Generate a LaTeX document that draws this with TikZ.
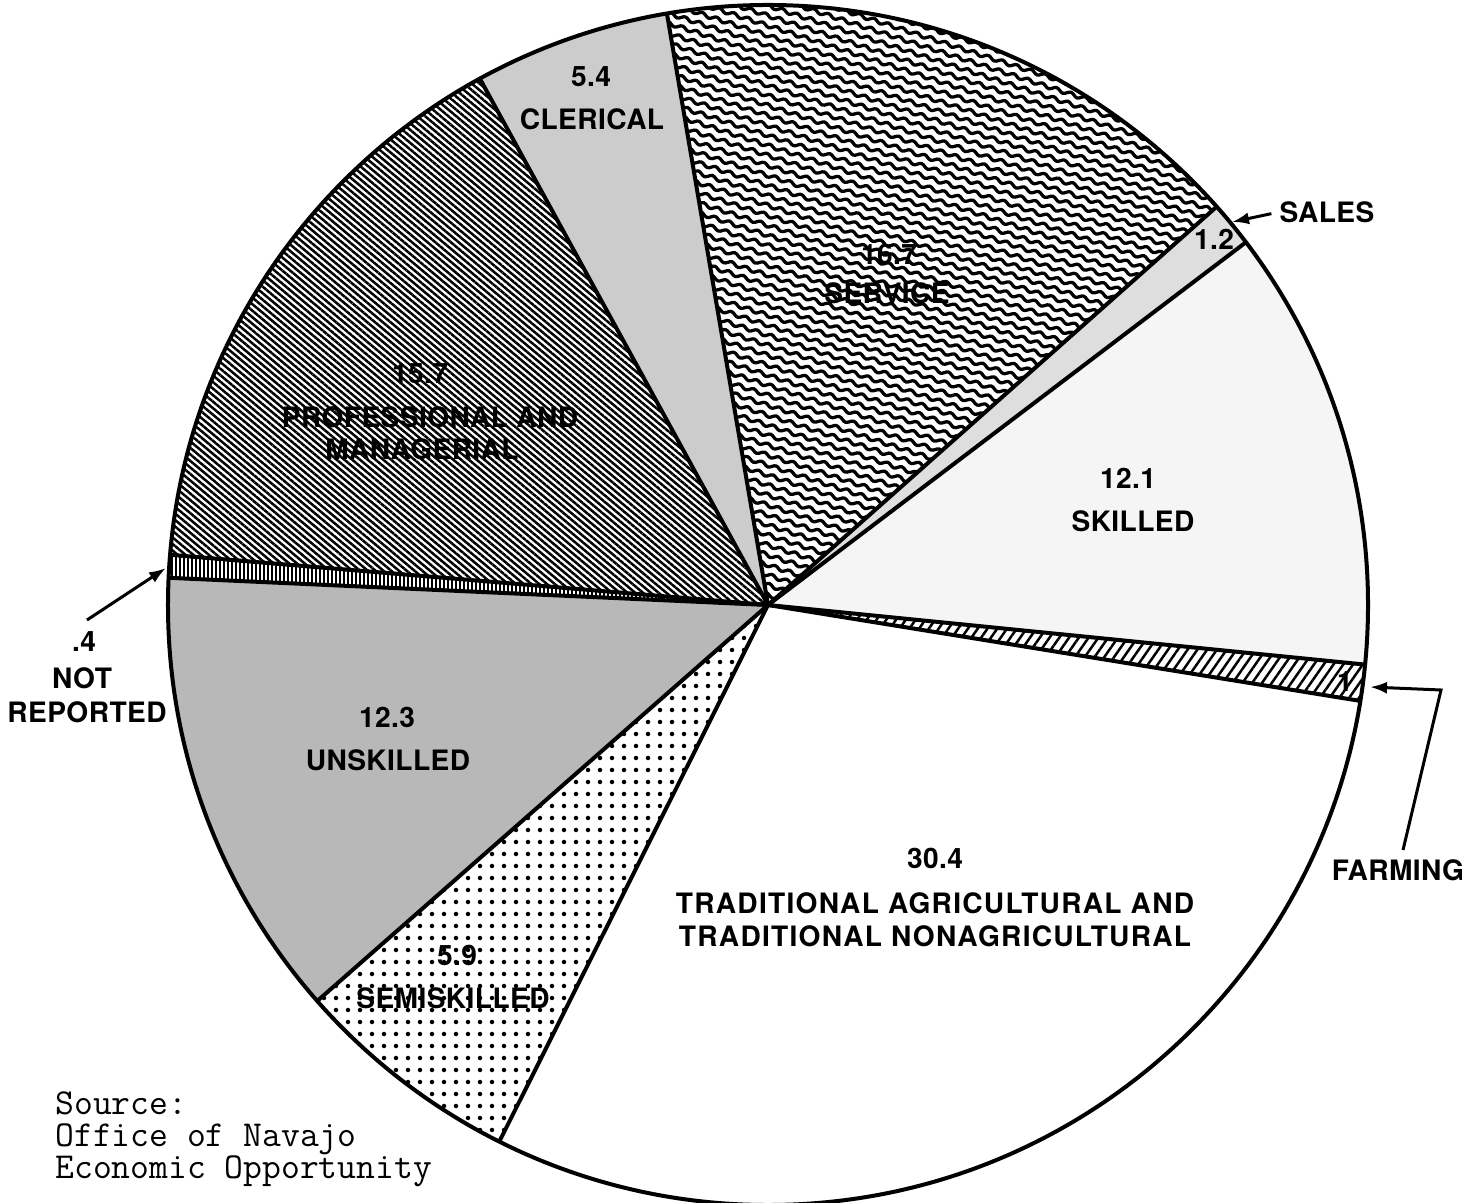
\documentclass[tikz,border=0pt]{standalone}
\usepackage{fontspec}
\newfontfamily\labfont[LetterSpace=1.5]{TeX Gyre Heros}
\newfontfamily\tradfont[LetterSpace=4.5]{TeX Gyre Heros}
\usetikzlibrary{patterns.meta,arrows.meta,decorations.pathmorphing,calc}
\begin{document}
\begin{tikzpicture}[x=0.2mm,y=0.2mm,
  lab/.style={inner sep=0pt, font=\labfont\bfseries\fontsize{16pt}{19pt}\selectfont},
  trad/.style={inner sep=0pt, font=\tradfont\bfseries\fontsize{16pt}{19pt}\selectfont},
  src/.style={inner sep=0pt, align=left, anchor=north west, font=\ttfamily\fontsize{20.8pt}{18.4pt}\selectfont},
  sector/.style={line width=0.8mm, line join=round},
  arr/.style={line width=0.6mm, -{Latex[length=3.4mm,width=2.4mm]}},
  wave/.style={line width=0.65mm, decorate, decoration={snake, segment length=3mm, amplitude=0.35mm}},
]
\useasboundingbox (0,0) rectangle (1483,1202);
\coordinate (C) at (768,597);

% ---- fills ----
% professional and managerial
\fill[pattern={Lines[angle=-40,distance=1mm,line width=0.5mm]}]
  (C) -- ++(118.7:120mm) arc[start angle=118.7,end angle=175.2,radius=120mm] -- cycle;
% clerical
\fill[black!20]
  (C) -- ++(99.7:120mm) arc[start angle=99.7,end angle=118.7,radius=120mm] -- cycle;
% service (wavy lines)
\begin{scope}
  \clip (C) -- ++(41.6:120mm) arc[start angle=41.6,end angle=99.7,radius=120mm] -- cycle;
  \begin{scope}[rotate around={-18:(C)}]
    \foreach \k in {-3,...,66}
      \draw[wave] ($(C)+(-340,\k*9.5)$) -- ++(700,0);
  \end{scope}
\end{scope}
% sales
\fill[black!13]
  (C) -- ++(37.2:120mm) arc[start angle=37.2,end angle=41.6,radius=120mm] -- cycle;
% skilled
\fill[black!4]
  (C) -- ++(-5.7:120mm) arc[start angle=-5.7,end angle=37.2,radius=120mm] -- cycle;
% farming
\fill[pattern={Lines[angle=55,distance=1.6mm,line width=0.5mm]}]
  (C) -- ++(-9.2:120mm) arc[start angle=-9.2,end angle=-5.7,radius=120mm] -- cycle;
% semiskilled
\fill[pattern={Dots[distance=2.4mm,radius=0.45mm]}]
  (C) -- ++(221.3:120mm) arc[start angle=221.3,end angle=243.4,radius=120mm] -- cycle;
% unskilled
\fill[black!28]
  (C) -- ++(177.4:120mm) arc[start angle=177.4,end angle=221.3,radius=120mm] -- cycle;
% not reported
\fill[pattern={Lines[angle=90,distance=0.8mm,line width=0.35mm]}]
  (C) -- ++(175.2:120mm) arc[start angle=175.2,end angle=177.4,radius=120mm] -- cycle;

% ---- outlines ----
\foreach \a in {41.6,99.7,118.7,175.2,177.4,221.3,243.4,-9.2,-5.7,37.2}
  \draw[sector] (C) -- ++(\a:120mm);
\draw[sector] (C) circle[radius=120mm];

% ---- labels ----
\node[lab] (cl1) at (591,1125) {5.4};
\node[lab] (cl2) at (592,1083) {CLERICAL};
\node[lab] (sv1) at (889,948) {16.7};
\node[lab] (sv2) at (887,909) {SERVICE};
\node[lab] (sa1) at (1214,963) {1.2};
\node[lab] (sa2) at (1327,990) {SALES};
\node[lab] (sk1) at (1128,724) {12.1};
\node[lab] (sk2) at (1133,681) {SKILLED};
\node[lab] (fa1) at (1345,520) {1};
\node[lab] (fa2) at (1398,332) {FARMING};
\node[lab] (tr1) at (935,344) {30.4};
\node[trad] (tr2) at (935,299) {TRADITIONAL AGRICULTURAL AND};
\node[trad] (tr3) at (935,266) {TRADITIONAL NONAGRICULTURAL};
\node[lab] (se1) at (457,247) {5.9};
\node[lab] (se2) at (453,204) {SEMISKILLED};
\node[lab] (un1) at (387,485) {12.3};
\node[lab] (un2) at (388,442) {UNSKILLED};
\node[lab] (nr1) at (84,560) {.4};
\node[lab] (nr2) at (82,524) {NOT};
\node[lab] (nr3) at (87,490) {REPORTED};
\node[lab] (pr1) at (420,828) {15.7};
\node[lab] (pr2) at (430,785) {PROFESSIONAL AND};
\node[lab] (pr3) at (422,753) {MANAGERIAL};

\node[src] (src) at (55,111) {Source:\\Office of Navajo\\Economic Opportunity};

% ---- arrows ----
\coordinate (salesTip) at (1232,980);
\coordinate (nrStart) at (87,582);
\coordinate (nrTip) at (166,634);
\coordinate (farmStart) at (1403,352);
\coordinate (farmBend) at (1441,512);
\coordinate (farmTip) at (1370,515);
\draw[arr, shorten <=1.6mm] (sa2.west) -- (salesTip);
\draw[arr] (nrStart) -- (nrTip);
\draw[arr] (farmStart) -- (farmBend) -- (farmTip);
\end{tikzpicture}
\end{document}
